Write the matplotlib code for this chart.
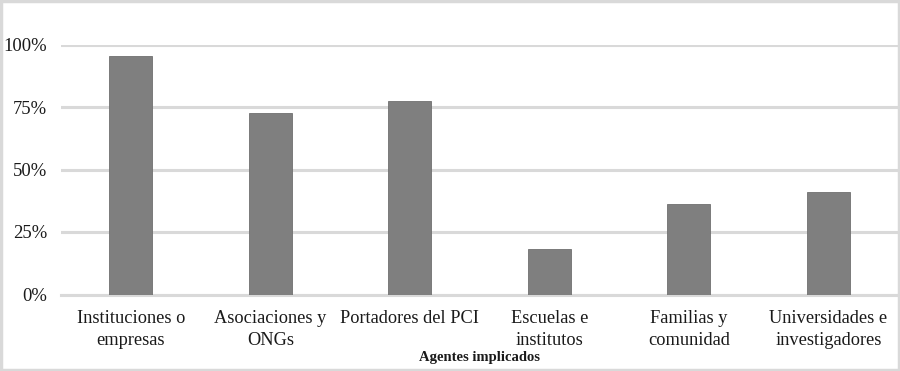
import matplotlib
matplotlib.use("Agg")
import matplotlib.pyplot as plt
from matplotlib.patches import Rectangle
from matplotlib.ticker import FuncFormatter

categories = ["Instituciones o\nempresas", "Asociaciones y\nONGs", "Portadores del PCI",
              "Escuelas e\ninstitutos", "Familias y\ncomunidad", "Universidades e\ninvestigadores"]
values = [95.45, 72.73, 77.27, 18.18, 36.36, 40.91]
yticks = [0, 25, 50, 75, 100]
xlabel = "Agentes implicados"

plt.rcParams['font.family'] = ['Liberation Serif', 'DejaVu Serif']

W, H = 900, 371
fig = plt.figure(figsize=(W/100, H/100), dpi=100)
ax = fig.add_axes([61/W, 1 - 294.5/H, (898 - 61)/W, (294.5 - 44.5)/H * 1.0])
x = list(range(len(categories)))
ax.bar(x, values, width=0.31, color="#7f7f7f", edgecolor="#707070", linewidth=0.6, zorder=3)
ax.set_xlim(-0.5, len(categories) - 0.5)
ax.set_ylim(0, 100)
ax.set_yticks(yticks)
ax.yaxis.set_major_formatter(FuncFormatter(lambda v, p: f"{int(v)}%"))
ax.grid(axis='y', color="#d9d9d9", linewidth=2.2, zorder=0)
ax.set_axisbelow(True)
for s in ["top", "right", "left"]:
    ax.spines[s].set_visible(False)
ax.spines["bottom"].set_color("#d9d9d9")
ax.spines["bottom"].set_linewidth(2.2)
ax.set_xticks(x)
ax.set_xticklabels(categories, fontsize=13.2, linespacing=1.32, color="#1a1a1a")
ax.tick_params(axis='both', length=0, colors="#1a1a1a")
ax.tick_params(axis='y', labelsize=13.4, pad=10)
ax.tick_params(axis='x', pad=11.5)
ax.set_xlabel(xlabel, fontsize=10.5, fontweight='bold', labelpad=1.5, color="#1a1a1a")

fig.patches.append(Rectangle((0.0015, 0.003), 0.997, 0.993, transform=fig.transFigure,
                             fill=False, edgecolor="#d9d9d9", linewidth=2.5))
fig.savefig("out.png", dpi=100)
